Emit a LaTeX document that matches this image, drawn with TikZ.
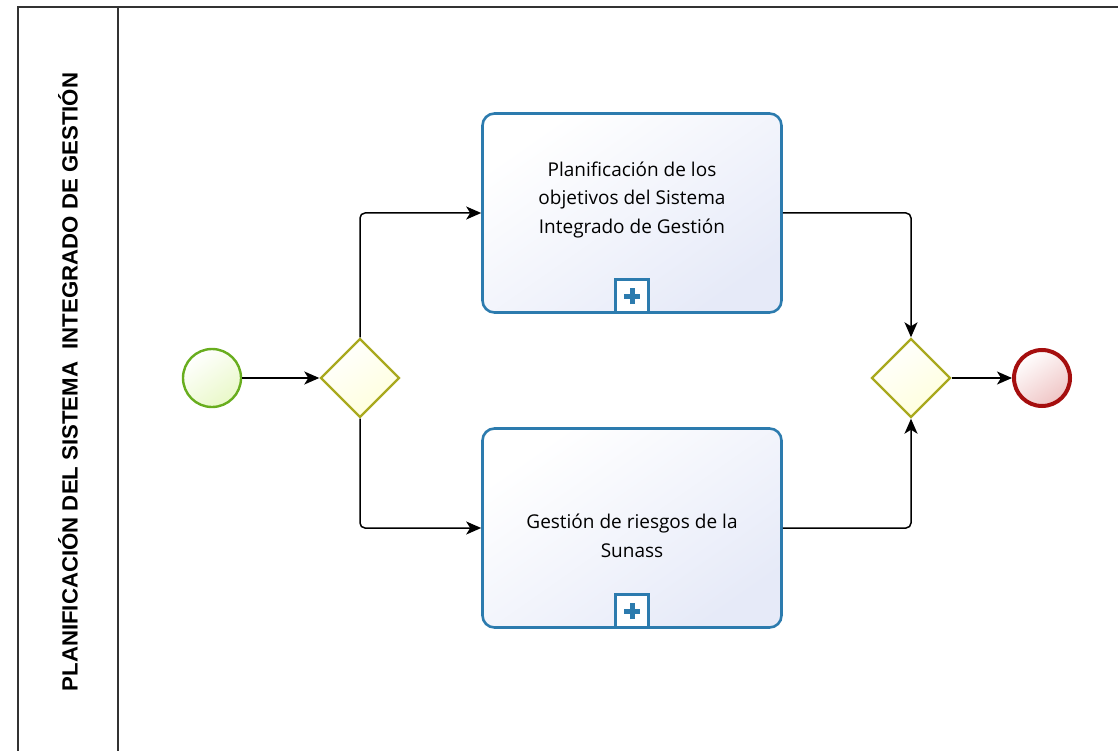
\documentclass[tikz,border=0pt]{standalone}
\usepackage{fontspec}
\setmainfont{Open Sans}
\newfontfamily\titlefont{Liberation Sans}
\usetikzlibrary{shapes.geometric,arrows.meta}

\definecolor{azul_tarea}{HTML}{2C7BAE}
\definecolor{fondo_tarea}{HTML}{E6EAF8}
\definecolor{oliva}{HTML}{A9A91E}
\definecolor{fondo_gw}{HTML}{FFFFDC}
\definecolor{verde_ini}{HTML}{68AD1E}
\definecolor{fondo_ini}{HTML}{E9F8C8}
\definecolor{rojo_fin}{HTML}{A50E0E}
\definecolor{fondo_fin}{HTML}{EFC4C4}

\begin{document}
\begin{tikzpicture}[
        x=1pt, y=-1pt,
        every node/.style={inner sep=0pt},
        marco/.style={draw=black!80, line width=2pt},
        task_box/.style={draw=azul_tarea, line width=2.6pt, rounded corners=12pt,
            minimum width=299pt, minimum height=199pt,
            top color=white, bottom color=fondo_tarea, shading angle=35},
        task_text/.style={align=center, font=\fontsize{19}{28.5}\selectfont},
        sub_marker/.style={draw=azul_tarea, line width=2.4pt, fill=white, minimum size=33pt},
        gateway_shape/.style={diamond, aspect=1, draw=oliva, line width=2.4pt,
            minimum size=79pt, top color=white, bottom color=fondo_gw, shading angle=35},
        start_event/.style={circle, draw=verde_ini, line width=2.4pt, minimum size=58pt,
            top color=white, bottom color=fondo_ini, shading angle=35},
        end_event/.style={circle, draw=rojo_fin, line width=4pt, minimum size=56pt,
            top color=white, bottom color=fondo_fin, shading angle=35},
        flujo/.style={draw, line width=1.5pt, rounded corners=5pt,
            -{Stealth[length=15pt, width=13pt, inset=4pt]}}
        ]
    \useasboundingbox (0,0) rectangle (1118,751);
    % pool
    \draw[marco] (18,751) -- (18,7) -- (1118,7);
    \draw[marco] (118,7) -- (118,751);
    \node[rotate=90] (titulo) at (68,382)
        {\titlefont\fontsize{22}{22}\selectfont\bfseries\scalebox{1.01}[1]{PLANIFICACIÓN DEL SISTEMA\ \ INTEGRADO DE GESTIÓN}};

    % eventos y compuertas
    \node[start_event] (inicio) at (212,378) {};
    \node[gateway_shape] (gw_split) at (360,378) {};
    \node[gateway_shape] (gw_join) at (911,378) {};
    \node[end_event] (fin) at (1042,378) {};

    % subprocesos
    \node[task_box] (plan_obj) at (632,213) {};
    \node[task_text] at ([yshift=13pt]plan_obj.center)
        {Planificación de los\\objetivos del Sistema\\Integrado de Gestión};
    \node[sub_marker, anchor=south] (mk1) at (plan_obj.south) {};
    \draw[azul_tarea, line width=5pt] ([xshift=-8pt]mk1.center) -- ([xshift=8pt]mk1.center)
        ([yshift=-8pt]mk1.center) -- ([yshift=8pt]mk1.center);

    \node[task_box] (riesgos) at (632,528) {};
    \node[task_text] at ([yshift=-8pt]riesgos.center)
        {Gestión de riesgos de la\\Sunass};
    \node[sub_marker, anchor=south] (mk2) at (riesgos.south) {};
    \draw[azul_tarea, line width=5pt] ([xshift=-8pt]mk2.center) -- ([xshift=8pt]mk2.center)
        ([yshift=-8pt]mk2.center) -- ([yshift=8pt]mk2.center);

    % flujos
    \draw[flujo] (inicio) -- (gw_split.west);
    \draw[flujo] (gw_split.north) |- (plan_obj.west);
    \draw[flujo] (gw_split.south) |- (riesgos.west);
    \draw[flujo] (plan_obj.east) -| (gw_join.north);
    \draw[flujo] (riesgos.east) -| (gw_join.south);
    \draw[flujo] (gw_join.east) -- (fin.west);
\end{tikzpicture}
\end{document}
